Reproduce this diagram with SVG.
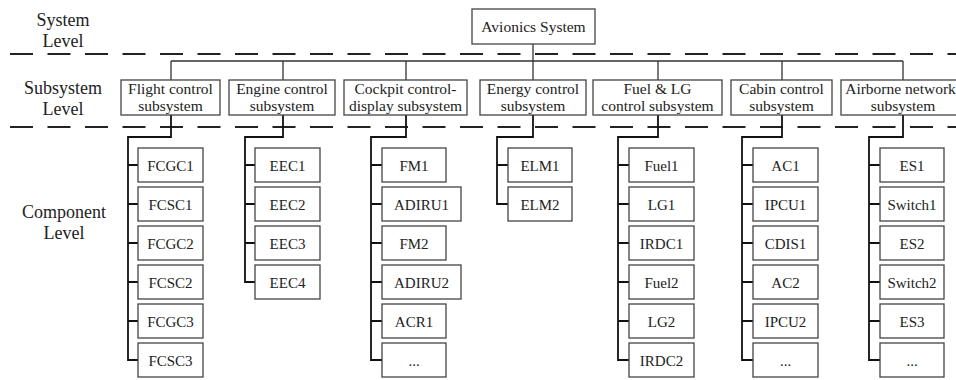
<svg xmlns="http://www.w3.org/2000/svg" width="956" height="380" viewBox="0 0 956 380" font-family="'Liberation Serif', 'DejaVu Serif', serif">
  <style>
    text { font-family: "Liberation Serif", "DejaVu Serif", serif; fill: #222; text-anchor: middle; }
    .lvl { font-size: 18px; }
    .sub { font-size: 15.5px; }
    .cmp { font-size: 15px; }
    .box { fill: #fff; stroke: #444; stroke-width: 1.3; }
    .sep { stroke: #222; stroke-width: 1.8; stroke-dasharray: 23 14.5; fill: none; }
    .bus { stroke: #333; stroke-width: 1.3; fill: none; }
    .tree { stroke: #111; stroke-width: 1.8; fill: none; }
  </style>

  <!-- level labels -->
  <g id="levels">
    <text class="lvl" x="63" y="26">System</text>
    <text class="lvl" x="63" y="47">Level</text>
    <text class="lvl" x="63" y="94">Subsystem</text>
    <text class="lvl" x="63" y="115">Level</text>
    <text class="lvl" x="64" y="218">Component</text>
    <text class="lvl" x="64" y="239">Level</text>
  </g>

  <!-- level separators -->
  <g id="separators">
    <line class="sep" x1="10" y1="54" x2="956" y2="54"/>
    <line class="sep" x1="10" y1="127" x2="956" y2="127"/>
  </g>

  <!-- connectors -->
  <g id="connectors">
    <path class="bus" d="M533 44V61M171 61H903M171 61V80M283 61V80M406 61V80M533 61V80M658 61V80M782 61V80M903 61V80"/>
    <!-- flight control -->
    <path class="tree" d="M171 115V137H128V360H138M128 165H138M128 204H138M128 243H138M128 282H138M128 321H138"/>
    <!-- engine control -->
    <path class="tree" d="M283 115V137H245V282H255M245 165H255M245 204H255M245 243H255"/>
    <!-- cockpit control-display -->
    <path class="tree" d="M406 115V137H371V360H382M371 165H382M371 204H382M371 243H382M371 282H382M371 321H382"/>
    <!-- energy control -->
    <path class="tree" d="M533 115V137H497V204H508M497 165H508"/>
    <!-- fuel & LG -->
    <path class="tree" d="M658 115V137H618V360H629M618 165H629M618 204H629M618 243H629M618 282H629M618 321H629"/>
    <!-- cabin control -->
    <path class="tree" d="M782 115V137H742V360H753M742 165H753M742 204H753M742 243H753M742 282H753M742 321H753"/>
    <!-- airborne network -->
    <path class="tree" d="M903 115V137H869V360H880M869 165H880M869 204H880M869 243H880M869 282H880M869 321H880"/>
  </g>

  <!-- system -->
  <g id="avionics">
    <rect class="box" x="472" y="9" width="123" height="35"/>
    <text class="sub" x="533.5" y="32">Avionics System</text>
  </g>

  <!-- subsystems -->
  <g id="sub-flight">
    <rect class="box" x="121" y="80" width="99" height="35"/>
    <text class="sub" x="170.5" y="93.5">Flight control</text>
    <text class="sub" x="170.5" y="111">subsystem</text>
  </g>
  <g id="sub-engine">
    <rect class="box" x="229" y="80" width="106" height="35"/>
    <text class="sub" x="282" y="93.5">Engine control</text>
    <text class="sub" x="282" y="111">subsystem</text>
  </g>
  <g id="sub-cockpit">
    <rect class="box" x="344" y="80" width="123" height="35"/>
    <text class="sub" x="405.5" y="93.5">Cockpit control-</text>
    <text class="sub" x="405.5" y="111">display subsystem</text>
  </g>
  <g id="sub-energy">
    <rect class="box" x="480" y="80" width="106" height="35"/>
    <text class="sub" x="533" y="93.5">Energy control</text>
    <text class="sub" x="533" y="111">subsystem</text>
  </g>
  <g id="sub-fuel">
    <rect class="box" x="593" y="80" width="129" height="35"/>
    <text class="sub" x="657.5" y="93.5">Fuel &amp; LG</text>
    <text class="sub" x="657.5" y="111">control subsystem</text>
  </g>
  <g id="sub-cabin">
    <rect class="box" x="731" y="80" width="101" height="35"/>
    <text class="sub" x="781.5" y="93.5">Cabin control</text>
    <text class="sub" x="781.5" y="111">subsystem</text>
  </g>
  <g id="sub-network">
    <rect class="box" x="841" y="80" width="124" height="35"/>
    <text class="sub" x="900.5" y="93.5">Airborne network</text>
    <text class="sub" x="903" y="111">subsystem</text>
  </g>

  <!-- flight control components -->
  <g id="FCGC1"><rect class="box" x="138" y="148" width="65" height="34"/><text class="cmp" x="170.5" y="170.5">FCGC1</text></g>
  <g id="FCSC1"><rect class="box" x="138" y="187" width="65" height="34"/><text class="cmp" x="170.5" y="209.5">FCSC1</text></g>
  <g id="FCGC2"><rect class="box" x="138" y="226" width="65" height="34"/><text class="cmp" x="170.5" y="248.5">FCGC2</text></g>
  <g id="FCSC2"><rect class="box" x="138" y="265" width="65" height="34"/><text class="cmp" x="170.5" y="287.5">FCSC2</text></g>
  <g id="FCGC3"><rect class="box" x="138" y="304" width="65" height="34"/><text class="cmp" x="170.5" y="326.5">FCGC3</text></g>
  <g id="FCSC3"><rect class="box" x="138" y="343" width="65" height="34"/><text class="cmp" x="170.5" y="365.5">FCSC3</text></g>

  <!-- engine control components -->
  <g id="EEC1"><rect class="box" x="255" y="148" width="65" height="34"/><text class="cmp" x="287.5" y="170.5">EEC1</text></g>
  <g id="EEC2"><rect class="box" x="255" y="187" width="65" height="34"/><text class="cmp" x="287.5" y="209.5">EEC2</text></g>
  <g id="EEC3"><rect class="box" x="255" y="226" width="65" height="34"/><text class="cmp" x="287.5" y="248.5">EEC3</text></g>
  <g id="EEC4"><rect class="box" x="255" y="265" width="65" height="34"/><text class="cmp" x="287.5" y="287.5">EEC4</text></g>

  <!-- cockpit control-display components -->
  <g id="FM1"><rect class="box" x="382" y="148" width="64" height="34"/><text class="cmp" x="414" y="170.5">FM1</text></g>
  <g id="ADIRU1"><rect class="box" x="382" y="187" width="79" height="34"/><text class="cmp" x="421.5" y="209.5">ADIRU1</text></g>
  <g id="FM2"><rect class="box" x="382" y="226" width="64" height="34"/><text class="cmp" x="414" y="248.5">FM2</text></g>
  <g id="ADIRU2"><rect class="box" x="382" y="265" width="79" height="34"/><text class="cmp" x="421.5" y="287.5">ADIRU2</text></g>
  <g id="ACR1"><rect class="box" x="382" y="304" width="64" height="34"/><text class="cmp" x="414" y="326.5">ACR1</text></g>
  <g id="cockpit-more"><rect class="box" x="382" y="343" width="64" height="34"/><text class="cmp" x="414" y="365.5">...</text></g>

  <!-- energy control components -->
  <g id="ELM1"><rect class="box" x="508" y="148" width="64" height="34"/><text class="cmp" x="540" y="170.5">ELM1</text></g>
  <g id="ELM2"><rect class="box" x="508" y="187" width="64" height="34"/><text class="cmp" x="540" y="209.5">ELM2</text></g>

  <!-- fuel & LG components -->
  <g id="Fuel1"><rect class="box" x="629" y="148" width="65" height="34"/><text class="cmp" x="661.5" y="170.5">Fuel1</text></g>
  <g id="LG1"><rect class="box" x="629" y="187" width="65" height="34"/><text class="cmp" x="661.5" y="209.5">LG1</text></g>
  <g id="IRDC1"><rect class="box" x="629" y="226" width="65" height="34"/><text class="cmp" x="661.5" y="248.5">IRDC1</text></g>
  <g id="Fuel2"><rect class="box" x="629" y="265" width="65" height="34"/><text class="cmp" x="661.5" y="287.5">Fuel2</text></g>
  <g id="LG2"><rect class="box" x="629" y="304" width="65" height="34"/><text class="cmp" x="661.5" y="326.5">LG2</text></g>
  <g id="IRDC2"><rect class="box" x="629" y="343" width="65" height="34"/><text class="cmp" x="661.5" y="365.5">IRDC2</text></g>

  <!-- cabin control components -->
  <g id="AC1"><rect class="box" x="753" y="148" width="65" height="34"/><text class="cmp" x="785.5" y="170.5">AC1</text></g>
  <g id="IPCU1"><rect class="box" x="753" y="187" width="65" height="34"/><text class="cmp" x="785.5" y="209.5">IPCU1</text></g>
  <g id="CDIS1"><rect class="box" x="753" y="226" width="65" height="34"/><text class="cmp" x="785.5" y="248.5">CDIS1</text></g>
  <g id="AC2"><rect class="box" x="753" y="265" width="65" height="34"/><text class="cmp" x="785.5" y="287.5">AC2</text></g>
  <g id="IPCU2"><rect class="box" x="753" y="304" width="65" height="34"/><text class="cmp" x="785.5" y="326.5">IPCU2</text></g>
  <g id="cabin-more"><rect class="box" x="753" y="343" width="65" height="34"/><text class="cmp" x="785.5" y="365.5">...</text></g>

  <!-- airborne network components -->
  <g id="ES1"><rect class="box" x="880" y="148" width="64" height="34"/><text class="cmp" x="912" y="170.5">ES1</text></g>
  <g id="Switch1"><rect class="box" x="880" y="187" width="64" height="34"/><text class="cmp" x="912" y="209.5">Switch1</text></g>
  <g id="ES2"><rect class="box" x="880" y="226" width="64" height="34"/><text class="cmp" x="912" y="248.5">ES2</text></g>
  <g id="Switch2"><rect class="box" x="880" y="265" width="64" height="34"/><text class="cmp" x="912" y="287.5">Switch2</text></g>
  <g id="ES3"><rect class="box" x="880" y="304" width="64" height="34"/><text class="cmp" x="912" y="326.5">ES3</text></g>
  <g id="network-more"><rect class="box" x="880" y="343" width="64" height="34"/><text class="cmp" x="912" y="365.5">...</text></g>
</svg>
